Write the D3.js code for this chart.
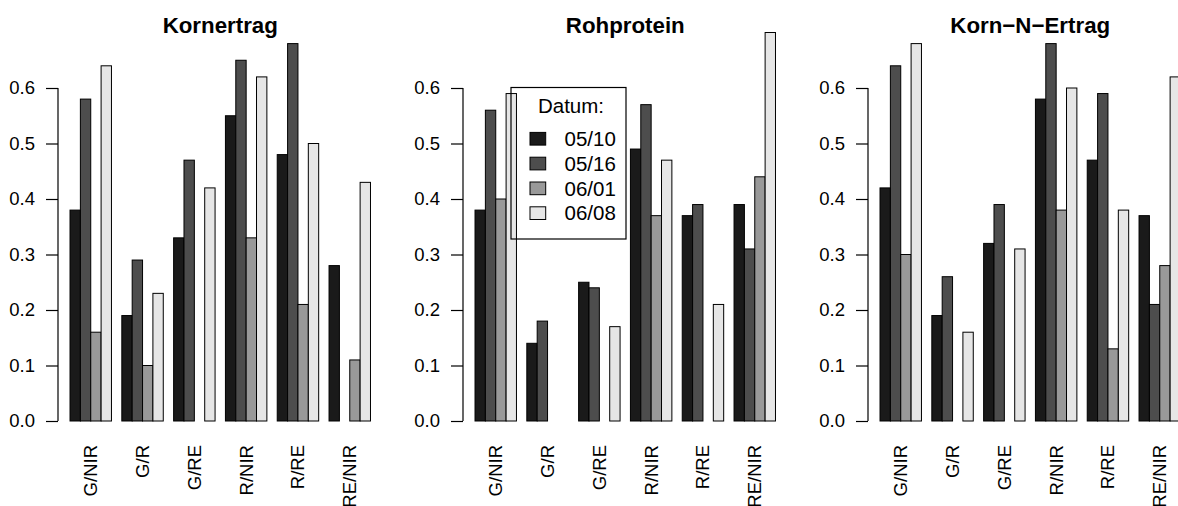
<!DOCTYPE html>
<html>
<head>
<meta charset="utf-8">
<script src="https://cdn.jsdelivr.net/npm/d3@7"></script>
<style>
body { margin: 0; background: #fff; overflow: hidden; }
text { font-family: "Liberation Sans", Arial, Helvetica, sans-serif; }
</style>
</head>
<body>
<script>
// categories and dates
let categories = ["G/NIR", "G/R", "G/RE", "R/NIR", "R/RE", "RE/NIR"]
let dates = ["05/10", "05/16", "06/01", "06/08"]
let yTicks = [0, 0.1, 0.2, 0.3, 0.4, 0.5, 0.6]

// one row per category, one value per date (null = no bar)
let kornertrag = [
    [0.38, 0.58, 0.16, 0.64],
    [0.19, 0.29, 0.10, 0.23],
    [0.33, 0.47, null, 0.42],
    [0.55, 0.65, 0.33, 0.62],
    [0.48, 0.68, 0.21, 0.50],
    [0.28, null, 0.11, 0.43]
]
let rohprotein = [
    [0.38, 0.56, 0.40, 0.59],
    [0.14, 0.18, null, null],
    [0.25, 0.24, null, 0.17],
    [0.49, 0.57, 0.37, 0.47],
    [0.37, 0.39, null, 0.21],
    [0.39, 0.31, 0.44, 0.70]
]
let kornNErtrag = [
    [0.42, 0.64, 0.30, 0.68],
    [0.19, 0.26, null, 0.16],
    [0.32, 0.39, null, 0.31],
    [0.58, 0.68, 0.38, 0.60],
    [0.47, 0.59, 0.13, 0.38],
    [0.37, 0.21, 0.28, 0.62]
]

let panels = [
    {title: "Kornertrag", values: kornertrag, left: 58},
    {title: "Rohprotein", values: rohprotein, left: 463},
    {title: "Korn\u2212N\u2212Ertrag", values: kornNErtrag, left: 868}
]

let w = 1178, h = 506
let plotW = 324.5
let plotTop = 88, plotBottom = 421
let fills = ["#1a1a1a", "#4d4d4d", "#999999", "#e6e6e6"]

let svg = d3.select("body").append("svg")
    .attr("width", w)
    .attr("height", h)

let yScale = d3.scaleLinear().domain([0, 0.6]).range([plotBottom, plotTop])
let color = d3.scaleOrdinal().domain(dates).range(fills)

panels.forEach(p => {
    let g = svg.append("g")
    let xScale = d3.scaleBand()
        .domain(categories)
        .range([p.left, p.left + plotW])
        .paddingInner(0.2)
        .paddingOuter(0.232)
    let inner = d3.scaleBand()
        .domain(dates)
        .range([0, xScale.bandwidth()])

    // bars
    categories.forEach((c, i) => {
        g.selectAll(null)
            .data(dates.map((d, j) => ({date: d, v: p.values[i][j]})).filter(d => d.v != null))
            .enter()
            .append("rect")
            .attr("x", d => xScale(c) + inner(d.date))
            .attr("y", d => yScale(d.v))
            .attr("width", inner.bandwidth())
            .attr("height", d => yScale(0) - yScale(d.v))
            .attr("fill", d => color(d.date))
            .attr("stroke", "#000")
            .attr("stroke-width", 1)
    })

    // y axis
    let yAxis = d3.axisLeft(yScale)
        .tickValues(yTicks)
        .tickFormat(d3.format(".1f"))
        .tickSize(12)
        .tickPadding(11)
    let ax = g.append("g")
        .attr("transform", "translate(" + p.left + ",0)")
        .call(yAxis)
    ax.select(".domain").attr("d", "M0," + yScale(0.6) + "V" + yScale(0))
    ax.selectAll("line, path").attr("stroke", "#000").attr("stroke-width", 1.2)
    ax.selectAll("text")
        .attr("font-size", 18.5)
        .attr("fill", "#000")
        .style("font-family", "'Liberation Sans', Arial, sans-serif")

    // category labels, rotated
    g.selectAll(null)
        .data(categories)
        .enter()
        .append("text")
        .attr("transform", d => "translate(" + (xScale(d) + xScale.bandwidth() / 2) + ",445) rotate(-90)")
        .attr("text-anchor", "end")
        .attr("dy", "0.35em")
        .attr("font-size", 18.5)
        .text(d => d)

    // title
    g.append("text")
        .attr("x", p.left + plotW / 2)
        .attr("y", 33)
        .attr("text-anchor", "middle")
        .attr("font-size", 22.3)
        .attr("font-weight", "bold")
        .text(p.title)
})

// legend in the middle panel
let legend = svg.append("g")
legend.append("rect")
    .attr("x", 511).attr("y", 87.5)
    .attr("width", 115).attr("height", 151.5)
    .attr("fill", "none")
    .attr("stroke", "#000")
    .attr("stroke-width", 1.2)
legend.append("text")
    .attr("x", 571).attr("y", 113)
    .attr("text-anchor", "middle")
    .attr("font-size", 20.5)
    .text("Datum:")
let rows = legend.selectAll(null)
    .data(dates)
    .enter()
    .append("g")
    .attr("transform", (d, i) => "translate(0," + (138.7 + i * 24.8) + ")")
rows.append("rect")
    .attr("x", 530).attr("y", -6.3)
    .attr("width", 15.7).attr("height", 12.7)
    .attr("fill", d => color(d))
    .attr("stroke", "#000")
rows.append("text")
    .attr("x", 564.5)
    .attr("dy", "0.36em")
    .attr("font-size", 20.5)
    .text(d => d)
</script>
</body>
</html>
